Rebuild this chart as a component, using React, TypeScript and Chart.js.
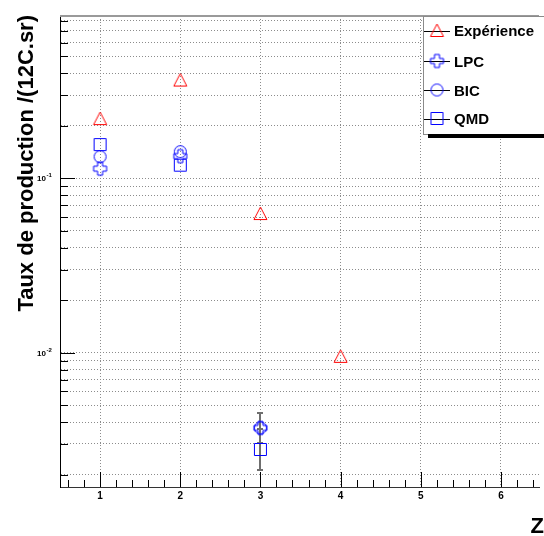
import React, { useEffect, useRef } from 'react';
import { Chart, registerables } from 'chart.js';
Chart.register(...registerables);

// ---- data ----
const seriesNames = ['Expérience', 'LPC', 'BIC', 'QMD'];
const zExp = [1, 2, 3, 4];
const experience = [0.22, 0.366, 0.0628, 0.00954];
const zModel = [1, 2, 3];
const lpc = [0.1136, 0.134, 0.00371];
const bic = [0.133, 0.142, 0.00371];
const qmd = [0.156, 0.119, 0.00279];
const lpcErrLow = [null, null, 0.00304];
const lpcErrHigh = [null, null, 0.00452];
const bicErrLow = [null, null, 0.00304];
const bicErrHigh = [null, null, 0.00452];
const qmdErrLow = [null, null, 0.00213];
const qmdErrHigh = [null, null, 0.00366];
const xTickValues = [1, 2, 3, 4, 5, 6];
const yMajorValues = [0.01, 0.1];
const yMajorExponents = ['-2', '-1'];
const xTitle = 'Z';
const yTitle = 'Taux de production /(12C.sr)';

const FONT = '"Liberation Sans", Arial, Helvetica, sans-serif';
const RED = '#ff0000';
const BLUE = '#0000ff';

function makeMarker(kind: string, color: string): HTMLCanvasElement {
  const s = 17;
  const c = document.createElement('canvas');
  c.width = s;
  c.height = s;
  const g = c.getContext('2d')!;
  const m = 8.5;
  g.strokeStyle = color;
  g.lineWidth = 1;
  g.beginPath();
  if (kind === 'triangle') {
    g.moveTo(m, m - 6.5);
    g.lineTo(m + 6.5, m + 6);
    g.lineTo(m - 6.5, m + 6);
    g.closePath();
  } else if (kind === 'cross') {
    const a = 2.5, l = 6.5;
    g.moveTo(m - a, m - l);
    g.lineTo(m + a, m - l);
    g.lineTo(m + a, m - a);
    g.lineTo(m + l, m - a);
    g.lineTo(m + l, m + a);
    g.lineTo(m + a, m + a);
    g.lineTo(m + a, m + l);
    g.lineTo(m - a, m + l);
    g.lineTo(m - a, m + a);
    g.lineTo(m - l, m + a);
    g.lineTo(m - l, m - a);
    g.lineTo(m - a, m - a);
    g.closePath();
  } else if (kind === 'circle') {
    g.arc(m, m, 6, 0, Math.PI * 2);
  } else {
    g.rect(m - 6, m - 6, 12, 12);
  }
  g.stroke();
  return c;
}

const isMajorLog = (v: number) => Math.abs(Math.log10(v) - Math.round(Math.log10(v))) < 1e-6;

const decorPlugin = {
  id: 'decor',
  beforeDatasetsDraw(chart: any) {
    const { ctx, scales } = chart;
    const x = scales.x, y = scales.y;
    ctx.save();
    ctx.strokeStyle = '#6e6e6e';
    ctx.lineWidth = 2;
    chart.data.datasets.forEach((ds: any) => {
      if (!ds.errLow) return;
      ds.data.forEach((p: any, i: number) => {
        const lo = ds.errLow[i], hi = ds.errHigh[i];
        if (lo == null || hi == null) return;
        const px = Math.round(x.getPixelForValue(p.x));
        const y1 = y.getPixelForValue(hi), y2 = y.getPixelForValue(lo);
        ctx.beginPath();
        ctx.moveTo(px, y1);
        ctx.lineTo(px, y2);
        ctx.moveTo(px - 3, y1);
        ctx.lineTo(px + 3, y1);
        ctx.moveTo(px - 3, y2);
        ctx.lineTo(px + 3, y2);
        ctx.stroke();
      });
    });
    ctx.restore();
  },
  afterDraw(chart: any) {
    const { ctx, chartArea: ca, scales } = chart;
    const x = scales.x, y = scales.y;
    ctx.save();
    // top frame
    ctx.strokeStyle = '#9a9a9a';
    ctx.lineWidth = 2;
    ctx.beginPath();
    ctx.moveTo(ca.left, ca.top);
    ctx.lineTo(ca.right, ca.top);
    ctx.stroke();
    // y tick marks
    ctx.strokeStyle = '#000';
    ctx.lineWidth = 1;
    ctx.beginPath();
    y.ticks.forEach((t: any) => {
      const py = Math.round(y.getPixelForValue(t.value)) + 0.5;
      const len = isMajorLog(t.value) ? 15 : 8;
      ctx.moveTo(ca.left, py);
      ctx.lineTo(ca.left + len, py);
    });
    // x tick marks
    for (let k = 3; k * 0.2 <= x.max + 1e-9; k++) {
      const v = k * 0.2;
      const px = Math.round(x.getPixelForValue(v)) + 0.5;
      const major = Math.abs(v - Math.round(v)) < 1e-6;
      const len = major ? 15 : 7;
      ctx.moveTo(px, ca.bottom);
      ctx.lineTo(px, ca.bottom - len);
    }
    ctx.stroke();
    // y tick labels 10^n
    ctx.fillStyle = '#000';
    ctx.textBaseline = 'alphabetic';
    yMajorValues.forEach((v, i) => {
      const py = y.getPixelForValue(v);
      ctx.font = `bold 8px ${FONT}`;
      ctx.textAlign = 'right';
      ctx.fillText('10', 46, py + 3);
      ctx.font = `bold 6px ${FONT}`;
      ctx.textAlign = 'left';
      ctx.fillText(yMajorExponents[i], 46.5, py - 1);
    });
    // axis titles
    ctx.font = `bold 22px ${FONT}`;
    ctx.textAlign = 'right';
    ctx.textBaseline = 'alphabetic';
    ctx.fillText(xTitle, 544, 533);
    ctx.save();
    ctx.translate(33, 15);
    ctx.rotate(-Math.PI / 2);
    ctx.fillText(yTitle, 0, 0);
    ctx.restore();
    // legend
    const lx = 423, ly = ca.top, lw = 130, lh = 118;
    ctx.fillStyle = '#fff';
    ctx.fillRect(lx, ly, lw, lh);
    ctx.strokeStyle = '#8a8a8a';
    ctx.lineWidth = 1;
    ctx.strokeRect(lx + 0.5, ly + 0.5, lw, lh);
    ctx.fillStyle = '#000';
    ctx.fillRect(lx + 5, ly + lh, lw, 4);
    const centers = [30.5, 61, 90, 118.5];
    chart.data.datasets.forEach((ds: any, i: number) => {
      const cy = centers[i];
      ctx.strokeStyle = '#000';
      ctx.lineWidth = 1;
      ctx.beginPath();
      ctx.moveTo(lx + 1, Math.round(cy) + 0.5);
      ctx.lineTo(lx + 27, Math.round(cy) + 0.5);
      ctx.stroke();
      const img = ds.pointStyle as HTMLCanvasElement;
      ctx.drawImage(img, lx + 14 - img.width / 2, cy - img.height / 2);
      ctx.fillStyle = '#000';
      ctx.font = `bold 15px ${FONT}`;
      ctx.textAlign = 'left';
      ctx.fillText(ds.label, 454, cy + 5.5);
    });
    ctx.restore();
  },
};

export default function App() {
  const ref = useRef<HTMLCanvasElement>(null);
  useEffect(() => {
    const canvas = ref.current!;
    const mk = [
      makeMarker('triangle', RED),
      makeMarker('cross', BLUE),
      makeMarker('circle', BLUE),
      makeMarker('square', BLUE),
    ];
    const toPts = (xs: number[], ys: number[]) => ys.map((v, i) => ({ x: xs[i], y: v }));
    const chart = new Chart(canvas, {
      type: 'scatter',
      data: {
        datasets: [
          { label: seriesNames[0], data: toPts(zExp, experience), pointStyle: mk[0] },
          { label: seriesNames[1], data: toPts(zModel, lpc), pointStyle: mk[1], errLow: lpcErrLow, errHigh: lpcErrHigh },
          { label: seriesNames[2], data: toPts(zModel, bic), pointStyle: mk[2], errLow: bicErrLow, errHigh: bicErrHigh },
          { label: seriesNames[3], data: toPts(zModel, qmd), pointStyle: mk[3], errLow: qmdErrLow, errHigh: qmdErrHigh },
        ] as any,
      },
      options: {
        animation: false,
        responsive: false,
        devicePixelRatio: 1,
        layout: { padding: { top: 16, right: 0, left: 0, bottom: 0 } },
        plugins: { legend: { display: false }, tooltip: { enabled: false } },
        scales: {
          x: {
            type: 'linear',
            min: 0.5,
            max: 6.475,
            afterBuildTicks: (s: any) => {
              s.ticks = xTickValues.map((v) => ({ value: v }));
            },
            afterFit: (s: any) => {
              s.height = 49;
            },
            grid: { color: '#8c8c8c', lineWidth: 1, drawTicks: false },
            border: { display: true, color: '#333', width: 1, dash: [1, 2] },
            ticks: {
              font: { family: FONT, size: 10, weight: 'bold' },
              color: '#000',
              padding: 3,
              maxRotation: 0,
              autoSkip: false,
              callback: (v: any) => String(v),
            },
          },
          y: {
            type: 'logarithmic',
            min: 0.0017,
            max: 0.852,
            afterBuildTicks: (s: any) => {
              const vals: number[] = [];
              for (let e = -4; e <= 0; e++) {
                for (let m = 1; m <= 9; m++) {
                  const v = m * Math.pow(10, e);
                  if (v >= s.min && v <= s.max) vals.push(v);
                }
              }
              s.ticks = vals.map((v) => ({ value: v }));
            },
            afterFit: (s: any) => {
              s.width = 60;
            },
            grid: { color: '#8c8c8c', lineWidth: 1, drawTicks: false },
            border: { display: true, color: '#000', width: 1, dash: [1, 2] },
            ticks: { display: false },
          },
        },
      } as any,
      plugins: [decorPlugin],
    });
    return () => chart.destroy();
  }, []);
  return (
    <div style={{ position: 'fixed', left: 0, top: 0, width: 544, height: 536, background: '#fff' }}>
      <canvas ref={ref} width={544} height={536} style={{ display: 'block', width: 544, height: 536 }} />
    </div>
  );
}
